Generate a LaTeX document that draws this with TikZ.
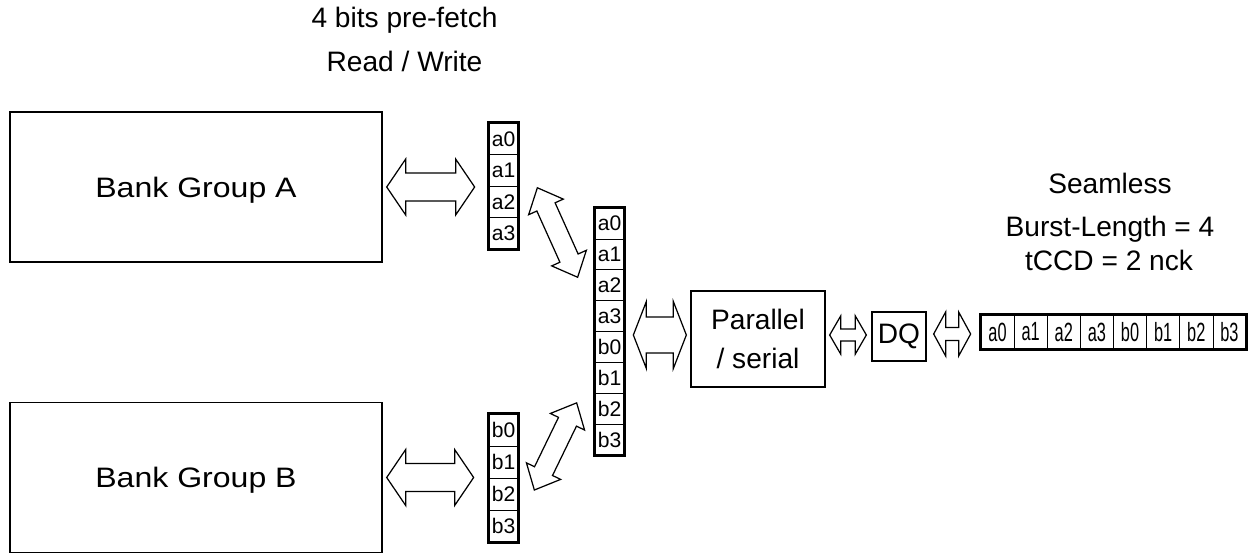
\documentclass[tikz,border=0pt]{standalone}
\usepackage{fontspec}
\setmainfont{Liberation Sans}
\usepackage{graphicx}
\usetikzlibrary{calc}

\begin{document}
\begin{tikzpicture}[
  x=0.2mm, y=-0.2mm,
  bank/.style={draw,line width=0.8pt,minimum width=74.4mm,minimum height=30mm,
               inner sep=0pt,text depth=0pt,font=\fontsize{16}{19}\selectfont},
  blk/.style={draw,line width=0.75pt,inner sep=0pt,font=\fontsize{16}{22}\selectfont},
  cell/.style={draw,line width=0.4pt,minimum width=5.8mm,inner sep=0pt,
               font=\fontsize{12}{12}\selectfont},
  hcell/.style={draw,line width=0.4pt,minimum width=6.625mm,minimum height=6.8mm,
                inner sep=0pt,font=\fontsize{15}{15}\selectfont},
  regbox/.style={line width=1.7pt},
  lbl/.style={anchor=base,font=\fontsize{16}{19}\selectfont},
  fat/.style n args={3}{draw,line width=0.7pt,fill=white,line join=miter,
    to path={let \p1=(\tikztostart), \p2=(\tikztotarget),
                 \n1={atan2(\y2-\y1,\x2-\x1)} in
      (\p1) -- ($(\p1)+(\n1:#3)+({\n1+90}:#1)$)
            -- ($(\p1)+(\n1:#3)+({\n1+90}:#2)$)
            -- ($(\p2)+(\n1:-#3)+({\n1+90}:#2)$)
            -- ($(\p2)+(\n1:-#3)+({\n1+90}:#1)$)
            -- (\p2)
            -- ($(\p2)+(\n1:-#3)+({\n1-90}:#1)$)
            -- ($(\p2)+(\n1:-#3)+({\n1-90}:#2)$)
            -- ($(\p1)+(\n1:#3)+({\n1-90}:#2)$)
            -- ($(\p1)+(\n1:#3)+({\n1-90}:#1)$)
            -- cycle}},
]
  \useasboundingbox (0,0) rectangle (1254,553);

  % Bank groups
  \node[bank] (bankA) at (196,187) {\scalebox{1.14}[1]{Bank Group A}};
  \node[bank] (bankB) at (196,477.5) {\scalebox{1.14}[1]{Bank Group B}};

  % Prefetch registers
  \foreach \t [count=\i from 0] in {a0,a1,a2,a3}
    \node[cell,minimum height=6.3mm] (ra\i) at (503.5,{138.75+31.5*\i}) {\t};
  \foreach \t [count=\i from 0] in {b0,b1,b2,b3}
    \node[cell,minimum height=6.4mm] (rb\i) at (503.5,{430+32*\i}) {\t};
  \foreach \t [count=\i from 0] in {a0,a1,a2,a3,b0,b1,b2,b3}
    \node[cell,minimum height=6.18mm] (rs\i) at (609.5,{223.45+30.9*\i}) {\t};
  \draw[regbox] (ra0.north west) rectangle (ra3.south east);
  \draw[regbox] (rb0.north west) rectangle (rb3.south east);
  \draw[regbox] (rs0.north west) rectangle (rs7.south east);

  % Serializer and output
  \node[blk,minimum width=26.8mm,minimum height=19.2mm,align=center] (par)
    at (758,339) {Parallel\\/ serial};
  \node[blk,minimum width=10.8mm,minimum height=9.8mm] (dq) at (899,336.5) {DQ};
  \foreach \t [count=\i from 0] in {a0,a1,a2,a3,b0,b1,b2,b3}
    \node[hcell] (rh\i) at ({997.56+33.125*\i},332) {\scalebox{0.62}[1]{\t}};
  \draw[regbox] (rh0.north west) rectangle (rh7.south east);

  % Data paths
  \draw[fat={5.6mm}{2.8mm}{3.8mm}] ($(bankA.east)+(4,0)$) to ($(ra1.west |- bankA.east)+(-14,0)$);
  \draw[fat={5.6mm}{2.8mm}{3.8mm}] ($(bankB.east)+(4,0)$) to ($(rb1.west |- bankB.east)+(-15,0)$);
  \draw[fat={3.8mm}{2mm}{4.2mm}] ($(ra2.east)+(19,-14)$) to ($(rs2.west)+(-17,-8)$);
  \draw[fat={3.8mm}{2mm}{4.2mm}] ($(rb2.east)+(16,-4)$) to ($(rs6.west)+(-18,-6)$);
  \draw[fat={6.7mm}{3.6mm}{2.6mm}] ($(rs4.east |- par.west)+(9,-4)$) to ($(par.west)+(-4,-4)$);
  \draw[fat={3.8mm}{1.2mm}{2.2mm}] ($(par.east)+(4,-4)$) to ($(dq.west)+(-5,-1.5)$);
  \draw[fat={4.4mm}{1.3mm}{2.4mm}] ($(dq.east)+(7,-2.5)$) to ($(rh0.west)+(-10,2)$);

  % Labels
  \node[lbl] (pf1) at (404.5,27) {4 bits pre-fetch};
  \node[lbl] (pf2) at (404.5,71) {Read / Write};
  \node[lbl] (bl1) at (1110,193) {Seamless};
  \node[lbl] (bl2) at (1110,236) {Burst-Length = 4};
  \node[lbl] (bl3) at (1109,270) {tCCD = 2 nck};
\end{tikzpicture}
\end{document}
